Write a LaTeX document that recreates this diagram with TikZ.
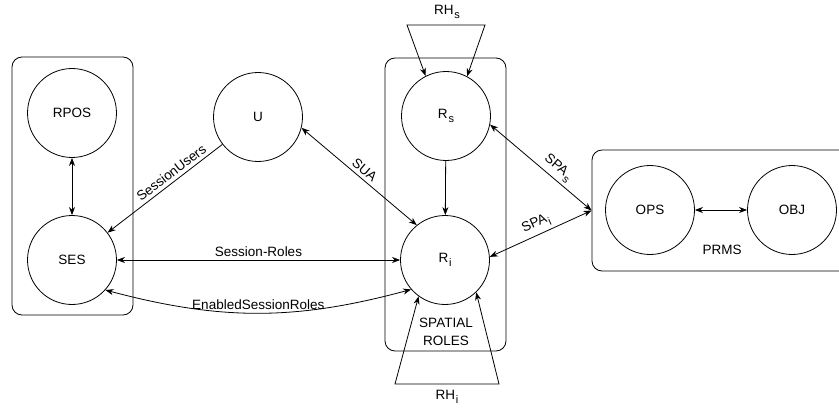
\documentclass[tikz,border=0pt]{standalone}
\usepackage{fontspec}
\setmainfont{Liberation Sans}
\usetikzlibrary{arrows.meta}
\newcommand{\lowsub}[1]{\kern0.8pt\raisebox{-0.6ex}{\fontsize{11}{11}\selectfont #1}}
\begin{document}
\begin{tikzpicture}[x=1pt,y=-1pt,line width=0.8pt,
    font=\fontsize{13.5}{16}\selectfont,
    >={Stealth[length=8pt,width=6pt,inset=2.5pt]},
    circ/.style={circle,draw,minimum size=89pt,inner sep=0pt},
    group/.style={draw,rounded corners=10pt,inner sep=0pt}]
  \useasboundingbox (0,0) rectangle (839,412);
  \clip (0,0) rectangle (839,412);
  \draw
    (72.5,186) node[group,minimum width=121pt,minimum height=258pt] (sesbox){}
    (445.5,204.5) node[group,minimum width=121pt,minimum height=293pt] (rolebox){}
    (721,210.5) node[group,minimum width=258pt,minimum height=121pt] (PRMS){}
    (72,113) node[circ] (RPOS){RPOS}
    (72,260) node[circ] (SES){SES}
    (258,117) node[circ] (U){U}
    (446,116) node[circ] (Rs){R\lowsub{s}}
    (445,260) node[circ] (Ri){R\lowsub{i}}
    (650,210) node[circ] (OPS){OPS}
    (792,210) node[circ] (OBJ){OBJ}
    (722,250) node (prmslabel){PRMS}
    (446,332) node[align=center,font=\fontsize{13.5}{18.5}\selectfont] (spatial){SPATIAL\\ROLES}
    (447,12) node (RHs){RH\lowsub{s}}
    (447,397) node (RHi){RH\lowsub{i}};
  \coordinate (hs1) at (407,25);
  \coordinate (hs2) at (485,25);
  \coordinate (hi1) at (395,384);
  \coordinate (hi2) at (499,384);
  \begin{scope}[<->]
    \draw (RPOS) to (SES);
    \draw (SES) to node[above]{Session-Roles} (Ri);
    \draw (SES.-42) to[bend right=15] node[above]{EnabledSessionRoles} (Ri.221);
    \draw (U.-14) to node[sloped,above]{SUA} (Ri.129);
    \draw (Rs.-11) to node[pos=0.6,sloped,above]{SPA\lowsub{s}} (PRMS.west);
    \draw (Ri.4) to node[sloped,above]{SPA\lowsub{i}} (PRMS.west);
    \draw (OPS) to (OBJ);
    \draw (Rs.117) -- (hs1) -- (hs2) -- (Rs.62);
    \draw (Ri.234) -- (hi1) -- (hi2) -- (Ri.-46);
  \end{scope}
  \begin{scope}[->]
    \draw (U) to node[pos=0.4,sloped,above]{SessionUsers} (SES);
    \draw (Rs) to (Ri);
  \end{scope}
\end{tikzpicture}
\end{document}
